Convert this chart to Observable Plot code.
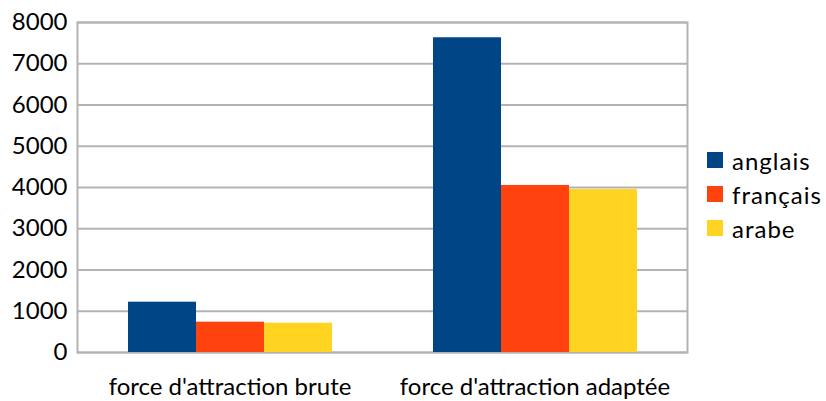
<!DOCTYPE html>
<html>
<head>
<meta charset="utf-8">
<script src="https://cdn.jsdelivr.net/npm/d3@7"></script>
<script src="https://cdn.jsdelivr.net/npm/@observablehq/plot@0.6"></script>
<style>
  body { margin: 0; background: #fff; font-family: Lato, "Open Sans", sans-serif; }
  #wrap { position: relative; width: 826px; height: 401px; }
  #legend { position: absolute; left: 707px; top: 143px; font-size: 24px; letter-spacing: 1px; color: #000; }
  .row { display: flex; align-items: center; height: 34px; }
  .sw { width: 16px; height: 16px; margin-right: 9px; }
</style>
</head>
<body>
<div id="wrap"><div id="legend"></div></div>
<script>
const categories = ["force d'attraction brute", "force d'attraction adaptée"];
const series = ["anglais", "français", "arabe"];
const colors = ["#004586", "#ff420e", "#ffd320"];
const anglais = [1220, 7630];
const francais = [735, 4050];
const arabe = [710, 3950];
const yTicks = [0, 1000, 2000, 3000, 4000, 5000, 6000, 7000, 8000];

const valuesBySeries = [anglais, francais, arabe];
const data = [];
categories.forEach((c, i) => {
  series.forEach((s, j) => data.push({category: c, series: s, value: valuesBySeries[j][i]}));
});

const grid = "#b3b3b3";
const chart = Plot.plot({
  width: 826,
  height: 401,
  marginLeft: 77,
  marginRight: 139,
  marginTop: 22,
  marginBottom: 49,
  style: {fontFamily: "Lato, 'Open Sans', sans-serif", fontSize: "24px", color: "#000", background: "#fff"},
  fx: {domain: categories, padding: 0, label: null, axis: null},
  x: {domain: series, paddingInner: 0, paddingOuter: 0.74, axis: null},
  y: {domain: [0, 8000], axis: null},
  color: {domain: series, range: colors},
  marks: [
    Plot.ruleY(yTicks, {stroke: grid, strokeWidth: 2}),
    Plot.frame({facet: "super", stroke: grid, strokeWidth: 2}),
    Plot.axisY({ticks: yTicks, tickSize: 0, tickPadding: 10, label: null, fill: "#000", tickFormat: d => String(d), fontSize: 24}),
    Plot.axisFx({anchor: "bottom", tickSize: 0, tickPadding: 25, label: null, fill: "#000", fontSize: 24, style: "letter-spacing: 0.85px"}),
    Plot.barY(data, {fx: "category", x: "series", y: "value", fill: "series"})
  ]
});
document.getElementById("wrap").prepend(chart);

const legend = document.getElementById("legend");
series.forEach((s, j) => {
  const row = document.createElement("div");
  row.className = "row";
  const sw = document.createElement("div");
  sw.className = "sw";
  sw.style.background = colors[j];
  const t = document.createElement("span");
  t.textContent = s;
  row.append(sw, t);
  legend.append(row);
});
</script>
</body>
</html>
